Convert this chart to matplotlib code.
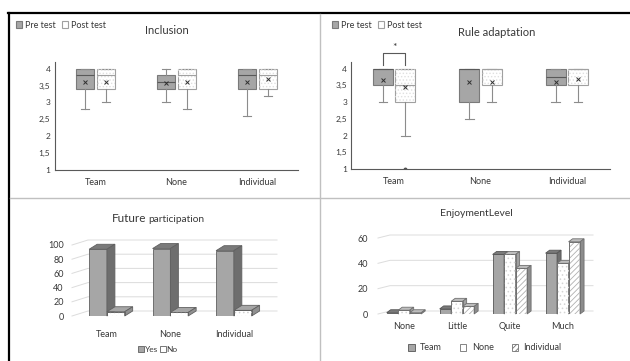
import numpy as np
import matplotlib.pyplot as plt
from matplotlib.patches import Polygon, Patch, PathPatch
from matplotlib.lines import Line2D

plt.rcParams['font.family'] = ['Lato', 'DejaVu Sans']
plt.rcParams['hatch.linewidth'] = 0.6

W, H = 630, 361

groups = ['Team', 'None', 'Individual']

# box statistics per group: (whislo, q1, med, q3, whishi, mean)
incl_pre = [(2.8, 3.4, 3.8, 4.0, 4.0, 3.62), (3.0, 3.4, 3.6, 3.8, 4.0, 3.57), (2.6, 3.4, 3.8, 4.0, 4.0, 3.6)]
incl_post = [(3.0, 3.4, 3.8, 4.0, 4.0, 3.6), (2.8, 3.4, 3.8, 4.0, 4.0, 3.6), (3.2, 3.4, 3.8, 4.0, 4.0, 3.7)]
incl_post_fliers = [[], [], []]
rule_pre = [(3.0, 3.5, 4.0, 4.0, 4.0, 3.65), (2.5, 3.0, 4.0, 4.0, 4.0, 3.6), (3.0, 3.5, 3.75, 4.0, 4.0, 3.6)]
rule_post = [(2.0, 3.0, 3.5, 4.0, 4.0, 3.45), (3.0, 3.5, 4.0, 4.0, 4.0, 3.6), (3.0, 3.5, 4.0, 4.0, 4.0, 3.7)]
rule_post_fliers = [[1.0], [], []]
box_yticks = [1, 1.5, 2, 2.5, 3, 3.5, 4]
box_ylabels = ['1', '1,5', '2', '2,5', '3', '3,5', '4']

# future participation (%)
future_yes = [94, 95, 92]
future_no = [6, 5, 8]

# enjoyment level (%)
levels = ['None', 'Little', 'Quite', 'Much']
enjoy_team = [1, 4, 47, 48]
enjoy_none = [3, 10, 47, 40]
enjoy_indiv = [1, 6, 36, 57]

TXT = '#383838'
PRE_FACE, PRE_EDGE = '#a6a6a6', '#7a7a7a'
POST_EDGE = '#a0a0a0'

fig = plt.figure(figsize=(W / 100, H / 100), dpi=100)


def px_axes(x0, y0, x1, y1):
    return fig.add_axes([x0 / W, 1 - y1 / H, (x1 - x0) / W, (y1 - y0) / H])


def ftext(x, y, s, **kw):
    kw.setdefault('color', TXT)
    kw.setdefault('ha', 'center')
    kw.setdefault('va', 'center')
    return fig.text(x / W, 1 - y / H, s, **kw)


def make_stats(rows, fliers=None):
    out = []
    for i, (lo, q1, med, q3, hi, mean) in enumerate(rows):
        out.append(dict(whislo=lo, q1=q1, med=med, q3=q3, whishi=hi, mean=mean,
                        fliers=fliers[i] if fliers else []))
    return out


def box_panel(ax, pre, post, post_fliers, padl):
    pos = np.arange(1, 4)
    common = dict(widths=0.23, patch_artist=True, showmeans=True, manage_ticks=False,
                  capwidths=0.1,
                  whiskerprops=dict(color='#8c8c8c', lw=0.8),
                  capprops=dict(color='#8c8c8c', lw=0.8),
                  meanprops=dict(marker='x', markeredgecolor='#303030', markersize=3.2,
                                 markeredgewidth=0.7),
                  flierprops=dict(marker='o', markerfacecolor='#505050',
                                  markeredgecolor='#505050', markersize=1.8))
    ax.bxp(make_stats(pre), positions=pos - 0.13,
           boxprops=dict(facecolor=PRE_FACE, edgecolor=PRE_EDGE, lw=0.8),
           medianprops=dict(color='#595959', lw=0.8), **common)
    b = ax.bxp(make_stats(post, post_fliers), positions=pos + 0.13,
               boxprops=dict(facecolor='white', edgecolor=POST_EDGE, lw=0.8),
               medianprops=dict(color=POST_EDGE, lw=0.8), **common)
    for box in b['boxes']:
        ax.add_patch(PathPatch(box.get_path(), facecolor='none', edgecolor='#e0e0e0',
                               lw=0, hatch='.....', zorder=2.05))
    ax.set_xlim(0.5, 3.5)
    ax.set_ylim(1, 4.2)
    ax.set_yticks(box_yticks, box_ylabels)
    ax.set_xticks(pos, groups)
    for s in ['top', 'right']:
        ax.spines[s].set_visible(False)
    for s in ['left', 'bottom']:
        ax.spines[s].set_color('#595959')
        ax.spines[s].set_linewidth(0.8)
    ax.tick_params(axis='y', length=0, labelsize=6, labelcolor=TXT, pad=padl)
    ax.tick_params(axis='x', length=0, labelsize=6.5, labelcolor=TXT, pad=6)
    ax.patch.set_alpha(0)


def pre_post_legend(x, y):
    handles = [Patch(facecolor=PRE_FACE, edgecolor=PRE_EDGE, lw=0.8),
               Patch(facecolor='white', edgecolor=POST_EDGE, lw=0.8)]
    fig.legend(handles, ['Pre test', 'Post test'], loc='center left',
               bbox_to_anchor=(x / W, 1 - y / H), ncol=2, frameon=False, fontsize=6.5,
               handlelength=0.7, handleheight=0.7, handletextpad=0.3,
               columnspacing=0.7, borderpad=0, labelcolor=TXT)


def px2data(ax, dxp, dyp, w_px, h_px):
    x0, x1 = ax.get_xlim()
    y0, y1 = ax.get_ylim()
    return dxp * (x1 - x0) / w_px, dyp * (y1 - y0) / h_px


def bar3d(ax, x, h, w, dx, dy, front, top, side, edge, hatch=None, hatch_col=None):
    ax.bar(x, h, w, color=front, edgecolor=edge, lw=0.6, zorder=3)
    if hatch:
        ax.bar(x, h, w, facecolor='none', edgecolor=hatch_col, lw=0, hatch=hatch, zorder=3.01)
        ax.bar(x, h, w, facecolor='none', edgecolor=edge, lw=0.6, zorder=3.02)
    l, r = x - w / 2, x + w / 2
    ax.add_patch(Polygon([(l, h), (r, h), (r + dx, h + dy), (l + dx, h + dy)],
                         facecolor=top, edgecolor=edge, lw=0.6, zorder=3, clip_on=False))
    ax.add_patch(Polygon([(r, 0), (r + dx, dy), (r + dx, h + dy), (r, h)],
                         facecolor=side, edgecolor=edge, lw=0.6, zorder=3, clip_on=False))


def back_grid(ax, ticks, dx, dy):
    x0, x1 = ax.get_xlim()
    for v in ticks:
        ax.plot([x0, x0 + dx, x1], [v, v + dy, v + dy], color='#dcdcdc', lw=0.7,
                zorder=1, clip_on=False)


# ---- frame lines ----
fig.add_artist(Line2D([8 / W, 1], [1 - 13 / H] * 2, color='black', lw=1.6))
fig.add_artist(Line2D([9 / W] * 2, [0, 1 - 13 / H], color='black', lw=1.6))
fig.add_artist(Line2D([320 / W] * 2, [0, 1 - 14 / H], color='#c0c0c0', lw=1.0))
fig.add_artist(Line2D([10 / W, 1], [1 - 198 / H] * 2, color='#c0c0c0', lw=1.0))

# ---- Inclusion ----
ax1 = px_axes(55, 62, 298, 170)
box_panel(ax1, incl_pre, incl_post, incl_post_fliers, padl=3.4)
ftext(167, 30, 'Inclusion', fontsize=8)
pre_post_legend(11, 25)

# ---- Rule adaptation ----
ax2 = px_axes(351, 62, 610, 169)
box_panel(ax2, rule_pre, rule_post, rule_post_fliers, padl=2.8)
ax2.plot([1 - 0.13, 1 - 0.13, 1 + 0.13, 1 + 0.13], [4.1, 4.48, 4.48, 4.1],
         color='#595959', lw=0.8, clip_on=False)
ax2.text(1, 4.64, '*', ha='center', va='center', fontsize=7.5, color=TXT)
ftext(497, 32, 'Rule adaptation', fontsize=8)
pre_post_legend(327, 25)

# ---- Future participation ----
ax3 = px_axes(72, 245, 277, 316)
ax3.set_xlim(-0.55, 2.68)
ax3.set_ylim(0, 100)
dx3, dy3 = px2data(ax3, 8, 5, 205, 71)
back_grid(ax3, range(0, 101, 20), dx3 * 2, dy3)
xg = np.arange(3)
bw3 = 0.28
for i in range(3):
    bar3d(ax3, xg[i] - bw3 / 2, future_yes[i], bw3, dx3, dy3,
          '#a6a6a6', '#7a7a7a', '#6e6e6e', '#606060')
    bar3d(ax3, xg[i] + bw3 / 2, future_no[i], bw3, dx3, dy3,
          'white', '#a6a6a6', '#909090', '#606060', hatch='....', hatch_col='#d0d0d0')
ax3.set_xticks(xg, groups)
ax3.set_yticks(range(0, 101, 20))
ax3.tick_params(length=0, labelsize=6.5, labelcolor=TXT)
ax3.tick_params(axis='x', pad=10)
ax3.tick_params(axis='y', pad=6)
for s in ax3.spines.values():
    s.set_visible(False)
ax3.patch.set_alpha(0)
ftext(146, 218, 'Future', fontsize=8.5, ha='right')
ftext(148, 219, 'participation', fontsize=7.3, ha='left')
fig.legend([Patch(facecolor='#a6a6a6', edgecolor='#606060', lw=0.6),
            Patch(facecolor='white', edgecolor='#606060', lw=0.6)], ['Yes', 'No'],
           loc='center', bbox_to_anchor=(158 / W, 1 - 349 / H), ncol=2, frameon=False,
           fontsize=6, handlelength=0.7, handleheight=0.7, handletextpad=0.1,
           columnspacing=0.2, borderpad=0, labelcolor=TXT)

# ---- Enjoyment level ----
ax4 = px_axes(378, 238, 593, 314)
ax4.set_xlim(-0.49, 3.57)
ax4.set_ylim(0, 60)
dx4, dy4 = px2data(ax4, 4, 3, 215, 76)
back_grid(ax4, range(0, 61, 20), dx4 * 3, dy4)
xl = np.arange(len(levels))
bw4 = 0.217
for i in range(len(levels)):
    bar3d(ax4, xl[i] - bw4, enjoy_team[i], bw4, dx4, dy4,
          '#a6a6a6', '#7a7a7a', '#6e6e6e', '#555555')
    bar3d(ax4, xl[i], enjoy_none[i], bw4, dx4, dy4,
          'white', '#bdbdbd', '#a0a0a0', '#707070', hatch='....', hatch_col='#d5d5d5')
    bar3d(ax4, xl[i] + bw4, enjoy_indiv[i], bw4, dx4, dy4,
          'white', '#bdbdbd', '#8c8c8c', '#707070', hatch='//////', hatch_col='#b0b0b0')
ax4.set_xticks(xl, levels)
ax4.set_yticks(range(0, 61, 20))
ax4.tick_params(length=0, labelsize=6.5, labelcolor=TXT)
ax4.tick_params(axis='x', pad=6)
ax4.tick_params(axis='y', pad=7)
for s in ax4.spines.values():
    s.set_visible(False)
ax4.patch.set_alpha(0)
ftext(476, 214, 'EnjoymentLevel', fontsize=7.5)
fig.legend([Patch(facecolor='#a6a6a6', edgecolor='#555555', lw=0.6),
            Patch(facecolor='white', edgecolor='#707070', lw=0.6),
            Patch(facecolor='white', edgecolor='#707070', lw=0.6, hatch='//////')],
           ['Team', 'None', 'Individual'], loc='center',
           bbox_to_anchor=(485 / W, 1 - 348 / H), ncol=3, frameon=False, fontsize=6.5,
           handlelength=0.7, handleheight=0.7, handletextpad=0.6, columnspacing=2.0,
           borderpad=0, labelcolor=TXT)

fig.savefig('out.png', dpi=100, facecolor='white')
